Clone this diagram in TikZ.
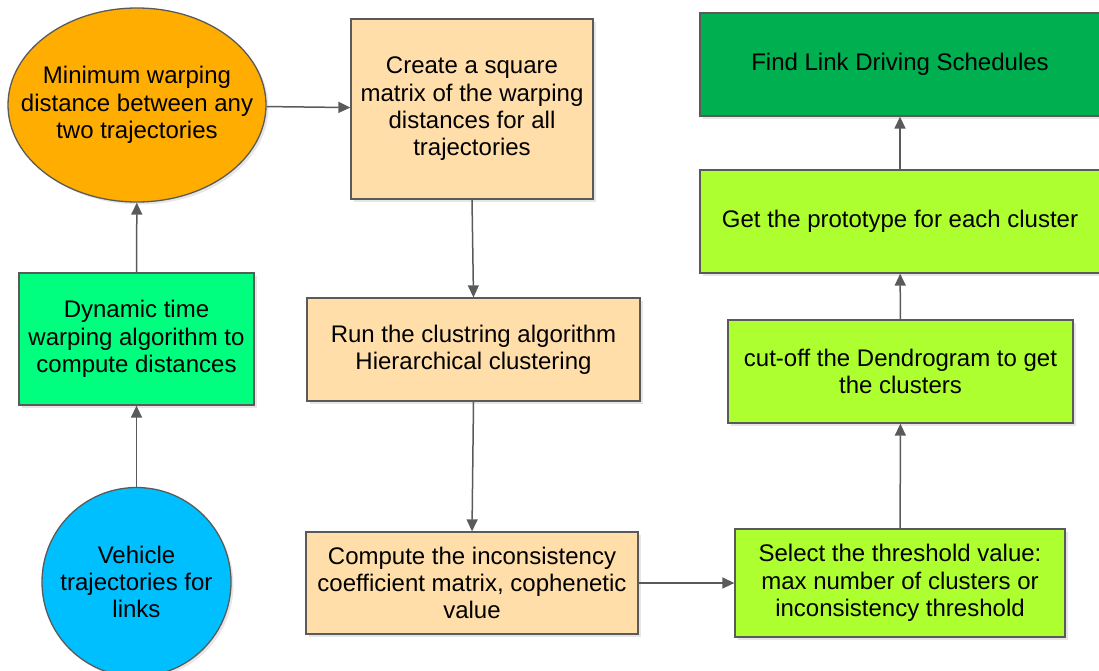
\documentclass[tikz,border=0pt]{standalone}
\usepackage{fontspec}
\setmainfont{Liberation Sans}
\usetikzlibrary{arrows.meta,shapes.geometric,shadows}
\definecolor{ellorange}{HTML}{FFAD00}
\definecolor{dtwgreen}{HTML}{00FF7F}
\definecolor{vehblue}{HTML}{00BFFF}
\definecolor{stepbeige}{HTML}{FFDEAA}
\definecolor{limegreen}{HTML}{ADFF2F}
\definecolor{darkgreen}{HTML}{00AF50}
\definecolor{edgegray}{HTML}{5A5A5A}
\begin{document}
\begin{tikzpicture}[x=1pt,y=-1pt,
  box/.style={draw=edgegray, line width=1.3pt, align=center, inner sep=0pt,
    font=\fontsize{24}{27.3}\selectfont,
    drop shadow={shadow xshift=2.5pt,shadow yshift=-2.5pt,opacity=0.2}},
  link/.style={-{Triangle[length=12pt,width=11pt]}, line width=1.5pt, draw=edgegray}]
\useasboundingbox (0,0) rectangle (1099,670);

%left column
\node[box,ellipse,fill=ellorange,inner xsep=-25pt,minimum width=258pt,minimum height=194pt] (ell) at (137,105) {Minimum warping\\distance between any\\two trajectories};
\node[box,fill=dtwgreen,minimum width=235pt,minimum height=132pt] (dtw) at (136.5,339) {Dynamic time\\warping algorithm to\\compute distances};
\node[box,circle,fill=vehblue,minimum size=189pt] (veh) at (136.5,582) {Vehicle\\trajectories for\\links};

%middle column
\node[box,fill=stepbeige,minimum width=242pt,minimum height=180pt] (create) at (472,109) {Create a square\\matrix of the warping\\distances for all\\trajectories};
\node[box,fill=stepbeige,minimum width=333pt,minimum height=103pt] (run) at (473.5,349.5) {Run the clustring algorithm\\Hierarchical clustering};
\node[box,fill=stepbeige,minimum width=332pt,minimum height=102pt] (comp) at (472,583) {Compute the inconsistency\\coefficient matrix, cophenetic\\value};

%right column
\node[box,fill=limegreen,minimum width=330pt,minimum height=108pt] (sel) at (900,583) {Select the threshold value:\\max number of clusters or\\inconsistency threshold};
\node[box,fill=limegreen,minimum width=345pt,minimum height=103pt] (cut) at (900.5,371.5) {cut-off the Dendrogram to get\\the clusters};
\node[box,fill=limegreen,minimum width=400pt,minimum height=103pt] (get) at (900,221.5) {Get the prototype for each cluster};
\node[box,fill=darkgreen,minimum width=400pt,minimum height=103pt] (find) at (900,64.5) {Find Link Driving Schedules};

%links
\draw[link] (veh) -- (dtw);
\draw[link] (dtw) -- (ell);
\draw[link] (ell) -- (create);
\draw[link] (create.south) -- (run.north);
\draw[link] (run.south) -- (comp.north);
\draw[link] (comp) -- (sel);
\draw[link] (sel) -- (cut);
\draw[link] (cut) -- (get);
\draw[link] (get) -- (find);

\end{tikzpicture}
\end{document}
